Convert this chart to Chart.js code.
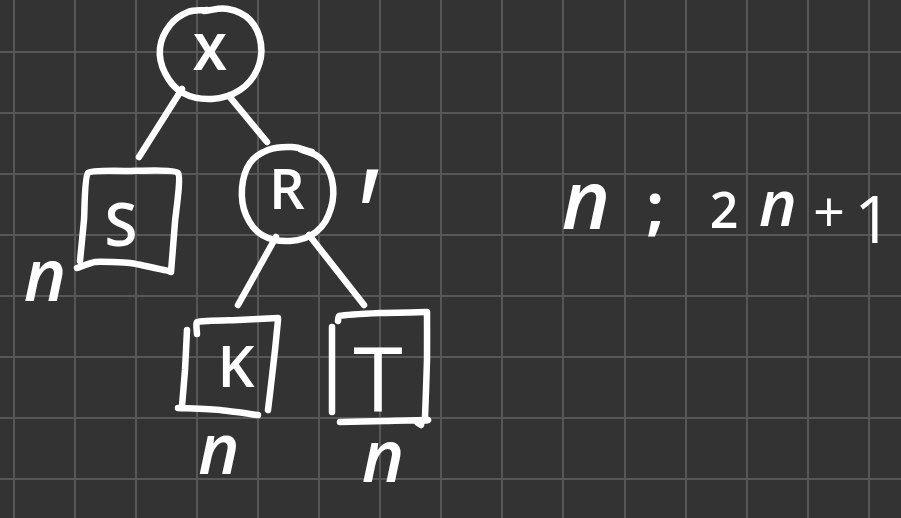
<!DOCTYPE html>
<html lang="en">
<head>
<meta charset="UTF-8">
<title>tree sketch</title>
<script src="https://cdn.jsdelivr.net/npm/chart.js@4.4.1/dist/chart.umd.min.js"></script>
<style>
  body{ margin:0; background:#333333; }
  canvas{ display:block; }
</style>
</head>
<body>
<canvas id="board" width="901" height="518"></canvas>
<script>
// grid lines of the board
const gridX = [13.5, 74.6, 135.7, 196.8, 257.9, 319, 380.1, 441.2, 502.3, 563.4, 624.5, 685.6, 746.7, 807.8, 868.9];
const gridY = [51.7, 112.8, 173.9, 235, 296.1, 357.2, 418.3, 479.4];

// pen strokes, [x, y] points
const ringX  = [[204,11],[228,9],[250,20],[261,44],[257,70],[240,90],[212,99],[183,93],[165,73],[160,48],[170,25],[188,12],[207,10]];
const edgeXS = [[182,89],[139,157]];
const edgeXR = [[229,96],[267,142]];
const boxS     = [[80,261],[84,220],[88,173],[130,171],[178,173],[175,222],[171,272]];
const boxSBase = [[77,268],[95,262],[130,263],[169,271]];
const ringR  = [[300,149],[320,158],[332,180],[331,208],[316,232],[290,241],[262,235],[246,215],[242,188],[250,163],[268,150],[292,147],[312,152]];
const edgeRK = [[276,237],[238,305]];
const edgeRT = [[309,235],[364,305]];
const boxKBar  = [[187,330],[185,370],[182,406]];
const boxKTop  = [[197,334],[197,322],[238,320],[278,318]];
const boxKSide = [[278,320],[275,350],[271,385],[268,410]];
const boxKBase = [[178,408],[220,410],[258,415]];
const boxTBar  = [[332,327],[332,370],[332,412]];
const boxTTop  = [[338,321],[339,316],[380,313],[427,312]];
const boxTSide = [[427,313],[427,360],[425,418]];
const boxTBase = [[340,422],[385,421],[428,420],[417,422],[421,425]];

const strokes = [ringX, edgeXS, edgeXR, boxS, boxSBase, ringR, edgeRK, edgeRT,
  boxKBar, boxKTop, boxKSide, boxKBase, boxTBar, boxTTop, boxTSide, boxTBase];
const rings = [ringX, ringR];

// handwritten text
const labelText = ['X', 'S', 'R', "'", 'K', 'T', 'n', 'n', 'n', 'n', ';', '2', 'n', '+', '1'];
const labelX    = [210, 121, 287, 362, 236, 378, 45, 219, 383, 586, 655, 724, 778, 829, 873];
const labelY    = [70, 246, 209, 262, 387, 412, 301, 474, 482, 229, 228, 228, 226, 232, 243];
const labelSize = [50, 60, 56, 130, 58, 90, 72, 70, 72, 82, 62, 50, 64, 56, 66];
const labelFont = ['700', '600', '600', 'italic 400', '600', '400', 'italic 600', 'italic 600', 'italic 600',
  'italic 600', '700', '600', 'italic 600', '500', '400'];

const handLabels = {
  id: 'handLabels',
  afterDatasetsDraw(chart) {
    const {ctx, scales: {x, y}} = chart;
    ctx.save();
    ctx.fillStyle = '#ffffff';
    ctx.textAlign = 'center';
    ctx.textBaseline = 'alphabetic';
    labelText.forEach((t, i) => {
      ctx.font = labelFont[i] + ' ' + labelSize[i] + 'px "Open Sans"';
      ctx.fillText(t, x.getPixelForValue(labelX[i]), y.getPixelForValue(labelY[i]));
    });
    ctx.restore();
  }
};

const gridOpts = {color: '#575757', lineWidth: 2, drawTicks: false};

new Chart(document.getElementById('board'), {
  type: 'scatter',
  data: {
    datasets: strokes.map(s => ({
      data: s.map(p => ({x: p[0], y: p[1]})),
      showLine: true,
      borderColor: '#ffffff',
      borderWidth: 6.5,
      borderCapStyle: 'round',
      borderJoinStyle: 'round',
      tension: rings.includes(s) ? 0.4 : 0.15,
      pointRadius: 0
    }))
  },
  options: {
    responsive: false,
    animation: false,
    layout: {padding: 0},
    events: [],
    plugins: {legend: {display: false}, tooltip: {enabled: false}},
    scales: {
      x: {
        type: 'linear', min: 0, max: 901,
        afterBuildTicks: sc => { sc.ticks = gridX.map(v => ({value: v})); },
        ticks: {display: false}, grid: gridOpts, border: {display: false}
      },
      y: {
        type: 'linear', min: 0, max: 518, reverse: true,
        afterBuildTicks: sc => { sc.ticks = gridY.map(v => ({value: v})); },
        ticks: {display: false}, grid: gridOpts, border: {display: false}
      }
    }
  },
  plugins: [handLabels]
});
</script>
</body>
</html>
